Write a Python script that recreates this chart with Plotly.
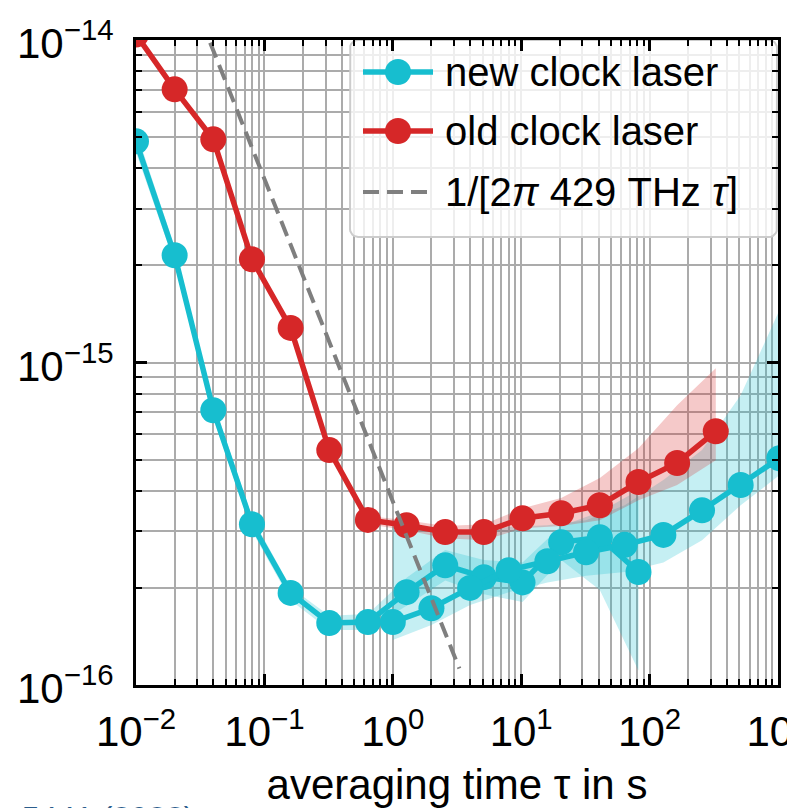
import math
import plotly.graph_objects as go

# ---------------- data ----------------
# new clock laser, short-tau data set (tau = 0.01 s * 2^n)
tau_new_a = [0.01, 0.02, 0.04, 0.08, 0.16, 0.32, 0.64, 1.28, 2.56, 5.12, 10.24, 20.48, 40.96, 81.92]
new_a = [4.85e-15, 2.15e-15, 7.11e-16, 3.15e-16, 1.93e-16, 1.556e-16, 1.567e-16,
         1.94e-16, 2.35e-16, 2.16e-16, 2.08e-16, 2.77e-16, 2.87e-16, 2.24e-16]
new_a_hi = [5.24e-15, 2.28e-15, 7.53e-16, 3.32e-16, 2.01e-16, 1.64e-16, 1.66e-16,
            2.15e-16, 2.62e-16, 2.44e-16, 2.40e-16, 3.11e-16, 3.44e-16, 4.02e-16]
new_a_lo = [4.48e-15, 2.03e-15, 6.72e-16, 3.00e-16, 1.83e-16, 1.48e-16, 1.48e-16,
            1.76e-16, 2.11e-16, 1.91e-16, 1.81e-16, 2.44e-16, 1.97e-16, 1.11e-16]

# new clock laser, long-tau data set (tau = 1 s * 2^n)
tau_new_b = [1, 2, 4, 8, 16, 32, 64, 128, 256, 512, 1024]
new_b = [1.567e-16, 1.73e-16, 2.00e-16, 2.27e-16, 2.42e-16, 2.58e-16, 2.72e-16,
         2.92e-16, 3.48e-16, 4.17e-16, 5.05e-16]
new_b_hi = [3.09e-16, 3.06e-16, 3.02e-16, 3.09e-16, 3.13e-16, 3.24e-16, 3.61e-16,
            4.32e-16, 5.35e-16, 7.91e-16, 1.45e-15]
new_b_lo = [1.378e-16, 1.535e-16, 1.77e-16, 1.94e-16, 2.08e-16, 2.18e-16, 2.24e-16,
            2.40e-16, 2.81e-16, 3.61e-16, 4.47e-16]

# old clock laser
tau_old = [0.01, 0.02, 0.04, 0.08, 0.16, 0.32, 0.64, 1.28, 2.56, 5.12, 10.24,
           20.48, 40.96, 81.92, 163.84, 327.68]
old = [1.04e-14, 7.03e-15, 4.92e-15, 2.09e-15, 1.28e-15, 5.35e-16, 3.25e-16, 3.13e-16,
       2.98e-16, 2.98e-16, 3.29e-16, 3.41e-16, 3.61e-16, 4.26e-16, 4.88e-16, 6.12e-16]
tau_old_band = [0.64, 1.28, 2.56, 5.12, 10.24, 20.48, 40.96, 81.92, 163.84, 327.68]
old_hi = [3.34e-16, 3.24e-16, 3.11e-16, 3.15e-16, 3.53e-16, 3.80e-16, 4.38e-16,
          5.42e-16, 7.37e-16, 9.60e-16]
old_lo = [3.15e-16, 3.02e-16, 2.85e-16, 2.81e-16, 3.06e-16, 3.11e-16, 3.24e-16,
          3.74e-16, 4.17e-16, 4.98e-16]

# reference line 1/(2 pi nu tau), nu = 429 THz
nu_clock = 429e12
tau_ref = [0.02, 3.3]
ref = [1.0 / (2 * math.pi * nu_clock * t) for t in tau_ref]

# axis ticks
x_tickvals = [1e-2, 1e-1, 1e0, 1e1, 1e2, 1e3]
x_ticktext = ["10<sup>\u22122</sup>", "10<sup>\u22121</sup>", "10<sup>0</sup>",
              "10<sup>1</sup>", "10<sup>2</sup>", "10<sup>3</sup>"]
y_tickvals = [1e-16, 1e-15, 1e-14]
y_ticktext = ["10<sup>\u221216</sup>", "10<sup>\u221215</sup>", "10<sup>\u221214</sup>"]
x_minor = [k * 10.0 ** d for d in range(-2, 3) for k in range(2, 10)]
y_minor = [k * 10.0 ** d for d in range(-16, -14) for k in range(2, 10)]

legend_names = ["new clock laser", "old clock laser", "1/[2<i>\u03c0</i> 429 THz <i>\u03c4</i>]"]
x_title = "averaging time \u03c4 in s"
citation = ". 5441 (2022)"

# ---------------- styling / layout ----------------
CYAN = "#17becf"
RED = "#d62728"
GRAY = "#7f7f7f"
CYAN_BAND = "rgba(23,190,207,0.25)"
RED_BAND = "rgba(214,39,40,0.25)"
FONT = "Liberation Sans, Arial, sans-serif"
GRID = "#ababab"
FS = 42
FS_LEG = 40

W, H = 787, 808
ML, MR, MT, MB = 136, 9, 40, 123
PW, PH = W - ML - MR, H - MT - MB


def px_x(px):  # page pixel -> paper fraction (layout helper for the legend)
    return (px - ML) / PW


def px_y(py):
    return (H - MB - py) / PH


def band(x, lo, hi, color):
    return go.Scatter(x=list(x) + list(x)[::-1], y=list(hi) + list(lo)[::-1],
                      fill="toself", fillcolor=color, line=dict(width=0),
                      mode="lines", showlegend=False, hoverinfo="skip")


fig = go.Figure()
fig.add_trace(band(tau_new_a, new_a_lo, new_a_hi, CYAN_BAND))
fig.add_trace(band(tau_new_b, new_b_lo, new_b_hi, CYAN_BAND))
fig.add_trace(band(tau_old_band, old_lo, old_hi, RED_BAND))

line_w = 5.5
MS = 26
fig.add_trace(go.Scatter(x=tau_new_a, y=new_a, mode="lines+markers", name=legend_names[0],
                         line=dict(color=CYAN, width=line_w),
                         marker=dict(size=MS, color=CYAN, opacity=1)))
fig.add_trace(go.Scatter(x=tau_new_b, y=new_b, mode="lines+markers", name=legend_names[0],
                         line=dict(color=CYAN, width=line_w),
                         marker=dict(size=MS, color=CYAN, opacity=1)))
fig.add_trace(go.Scatter(x=tau_old, y=old, mode="lines+markers", name=legend_names[1],
                         line=dict(color=RED, width=line_w),
                         marker=dict(size=MS, color=RED, opacity=1)))
DASH = dict(color=GRAY, width=4, dash="16px,8px")
fig.add_trace(go.Scatter(x=tau_ref, y=ref, mode="lines", name=legend_names[2], line=DASH))

# ---- legend (drawn by hand so the handles can carry full-size markers) ----
# rounded legend frame as a filled polygon on an overlay axis (0..1 = plot area)
box_px = (350, 777, 40, 237)  # left, right, top, bottom
rad = 8
corners = [(box_px[1] - rad, box_px[2] + rad, -90, 0), (box_px[1] - rad, box_px[3] - rad, 0, 90),
           (box_px[0] + rad, box_px[3] - rad, 90, 180), (box_px[0] + rad, box_px[2] + rad, 180, 270)]
frame_x, frame_y = [], []
for cx, cy, a0, a1 in corners:
    for k in range(7):
        a = math.radians(a0 + (a1 - a0) * k / 6)
        frame_x.append(px_x(cx + rad * math.cos(a)))
        frame_y.append(px_y(cy + rad * math.sin(a)))
frame_x.append(frame_x[0])
frame_y.append(frame_y[0])
fig.add_trace(go.Scatter(x=frame_x, y=frame_y, xaxis="x2", yaxis="y2", mode="lines",
                         fill="toself", fillcolor="rgba(255,255,255,0.8)",
                         line=dict(color="#cccccc", width=2),
                         showlegend=False, hoverinfo="skip"))

leg_rows_py = [72, 131, 192]
leg_line_px = (363, 433)
leg_text_px = 443
leg_styles = [dict(color=CYAN, width=line_w), dict(color=RED, width=line_w), DASH]
leg_markers = [CYAN, RED, None]
for row_py, sty, mcol in zip(leg_rows_py, leg_styles, leg_markers):
    xs = [px_x(leg_line_px[0]), px_x(leg_line_px[1])]
    ys = [px_y(row_py)] * 2
    fig.add_trace(go.Scatter(x=xs, y=ys, xaxis="x2", yaxis="y2", mode="lines", line=sty,
                             showlegend=False, hoverinfo="skip", cliponaxis=False))
    if mcol:
        fig.add_trace(go.Scatter(x=[px_x(sum(leg_line_px) / 2)], y=[px_y(row_py)],
                                 xaxis="x2", yaxis="y2", mode="markers",
                                 marker=dict(size=MS, color=mcol, opacity=1),
                                 showlegend=False, hoverinfo="skip", cliponaxis=False))

annotations = []
for row_py, name in zip(leg_rows_py, legend_names):
    annotations.append(dict(text=name, xref="paper", yref="paper", x=px_x(leg_text_px),
                            y=px_y(row_py), xanchor="left", yanchor="middle", showarrow=False,
                            font=dict(family=FONT, size=FS_LEG, color="black")))
for v, t in zip(y_tickvals, y_ticktext):
    annotations.append(dict(text=t, xref="paper", yref="y", x=0, y=math.log10(v),
                            xanchor="right", yanchor="middle", xshift=-20, showarrow=False,
                            font=dict(family=FONT, size=FS, color="black")))
annotations.append(dict(text=citation, xref="paper", yref="paper",
                        x=px_x(2), y=px_y(798), xanchor="left", yanchor="top",
                        showarrow=False, font=dict(family=FONT, size=32, color="#2b5d8c")))

axis_common = dict(
    type="log", showline=True, linecolor="black", linewidth=2.5, mirror="allticks",
    ticks="inside", ticklen=11, tickwidth=2.5, tickcolor="black",
    showgrid=True, gridcolor=GRID, gridwidth=2, zeroline=False, automargin=False,
    tickfont=dict(family=FONT, size=FS, color="black"),
)

xaxis = dict(range=[-2, 3], tickmode="array", tickvals=x_tickvals, ticktext=x_ticktext,
             minor=dict(tickmode="array", tickvals=x_minor, ticks="inside", ticklen=6,
                        tickwidth=1.8, tickcolor="black", showgrid=True,
                        gridcolor=GRID, gridwidth=2),
             ticklabeloverflow="allow", ticklabelstandoff=8,
             title=dict(text=x_title, font=dict(family=FONT, size=FS, color="black"),
                        standoff=19),
             **axis_common)
yaxis = dict(range=[-16, -14], tickmode="array", tickvals=y_tickvals, ticktext=y_ticktext,
             showticklabels=False,
             minor=dict(tickmode="array", tickvals=y_minor, ticks="inside", ticklen=6,
                        tickwidth=1.8, tickcolor="black", showgrid=True,
                        gridcolor=GRID, gridwidth=2),
             **axis_common)

fig.update_layout(
    width=W, height=H,
    margin=dict(l=ML, r=MR, t=MT, b=MB, autoexpand=False),
    paper_bgcolor="white", plot_bgcolor="white",
    font=dict(family=FONT, size=FS, color="black"),
    showlegend=False,
    xaxis=xaxis, yaxis=yaxis,
    xaxis2=dict(overlaying="x", anchor="y2", range=[0, 1], visible=False, fixedrange=True),
    yaxis2=dict(overlaying="y", anchor="x2", range=[0, 1], visible=False, fixedrange=True),
    annotations=annotations,
)

fig.write_html("out.html")
